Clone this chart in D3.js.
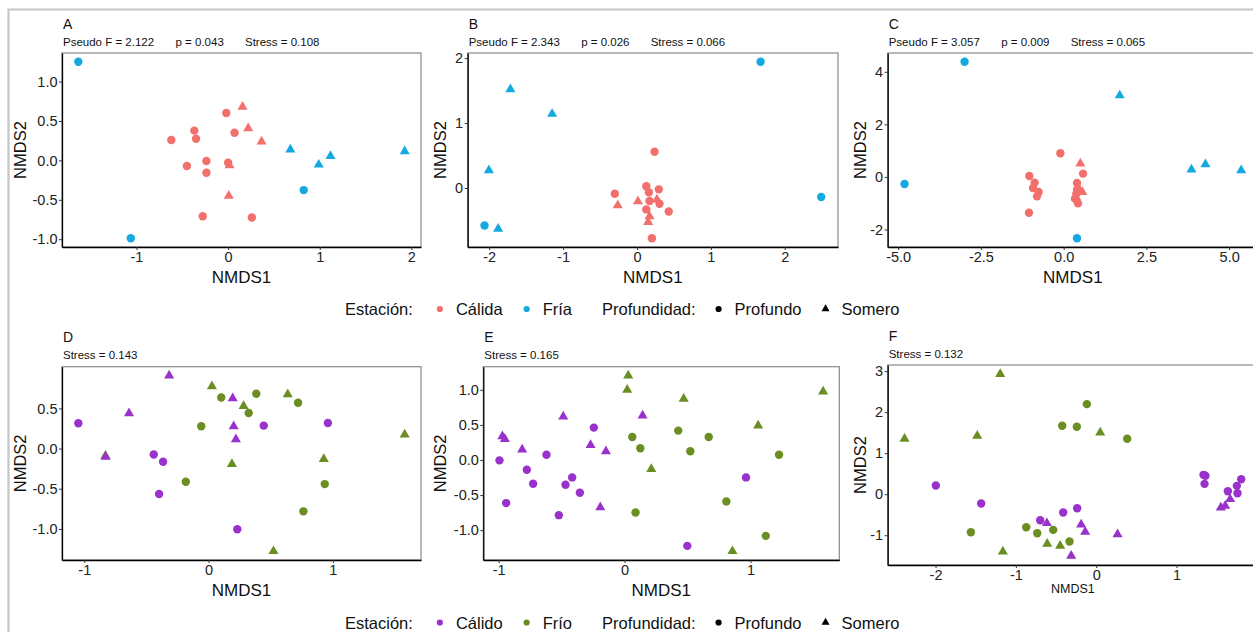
<!DOCTYPE html>
<html>
<head>
<meta charset="utf-8">
<script src="https://cdn.jsdelivr.net/npm/d3@7"></script>
<style>
  body { margin: 0; background: #fff; }
  svg { display: block; }
  text { font-family: "Liberation Sans", Arial, sans-serif; }
</style>
</head>
<body>
<svg id="fig"></svg>
<script>

// ---- data : [NMDS1, NMDS2, estacion, profundidad]  (C = calida/calido, F = fria/frio ; P = profundo, S = somero)
const ptsA = [
  [-1.635, 1.25, "F", "P"], [-1.062, -0.987, "F", "P"], [0.825, -0.377, "F", "P"],
  [0.679, 0.136, "F", "S"], [0.989, -0.055, "F", "S"], [1.117, 0.055, "F", "S"], [1.927, 0.114, "F", "S"],
  [-0.02, 0.6, "C", "P"], [-0.369, 0.377, "C", "P"], [-0.35, 0.275, "C", "P"], [-0.62, 0.258, "C", "P"],
  [0.07, 0.35, "C", "P"], [-0.45, -0.072, "C", "P"], [-0.237, -0.008, "C", "P"], [-0.237, -0.157, "C", "P"],
  [0, -0.03, "C", "P"], [-0.277, -0.708, "C", "P"], [0.259, -0.725, "C", "P"],
  [0.157, 0.68, "C", "S"], [0.219, 0.407, "C", "S"], [0.365, 0.237, "C", "S"], [0.015, -0.064, "C", "S"], [0.007, -0.45, "C", "S"]
]
const ptsB = [
  [1.673, 1.943, "F", "P"], [2.493, -0.139, "F", "P"], [-2.063, -0.577, "F", "P"],
  [-1.713, 1.52, "F", "S"], [-1.148, 1.14, "F", "S"], [-2.004, 0.273, "F", "S"], [-1.879, -0.629, "F", "S"],
  [0.238, 0.557, "C", "P"], [-0.3, -0.088, "C", "P"], [0.126, 0.026, "C", "P"], [0.161, -0.067, "C", "P"],
  [0.296, -0.021, "C", "P"], [0.17, -0.2, "C", "P"], [0.305, -0.242, "C", "P"], [0.126, -0.33, "C", "P"],
  [0.43, -0.361, "C", "P"], [0.202, -0.773, "C", "P"],
  [-0.26, -0.268, "C", "S"], [0.013, -0.206, "C", "S"], [0.27, -0.18, "C", "S"], [0.17, -0.438, "C", "S"], [0.152, -0.526, "C", "S"]
]
const ptsC = [
  [-2.994, 4.38, "F", "P"], [-4.808, -0.268, "F", "P"], [0.403, -2.33, "F", "P"],
  [1.694, 3.1, "F", "S"], [3.861, 0.28, "F", "S"], [4.284, 0.48, "F", "S"], [5.363, 0.25, "F", "S"],
  [-0.1, 0.904, "C", "P"], [-1.038, 0.038, "C", "P"], [-0.877, -0.217, "C", "P"], [-0.927, -0.42, "C", "P"],
  [-0.756, -0.573, "C", "P"], [-0.806, -0.739, "C", "P"], [-1.048, -1.363, "C", "P"], [0.403, -0.229, "C", "P"],
  [0.585, 0.127, "C", "P"], [0.403, -0.484, "C", "P"], [0.433, -1.006, "C", "P"], [0.343, -0.828, "C", "P"], [0.383, -0.637, "C", "P"],
  [0.504, 0.51, "C", "S"], [0.565, -0.573, "C", "S"], [0.383, -0.79, "C", "S"], [0.46, -0.45, "C", "S"]
]
const ptsD = [
  [0.102, 0.636, "F", "P"], [0.384, 0.682, "F", "P"], [0.72, 0.57, "F", "P"], [0.323, 0.442, "F", "P"],
  [-0.059, 0.277, "F", "P"], [-0.183, -0.413, "F", "P"], [0.935, -0.442, "F", "P"], [0.763, -0.781, "F", "P"],
  [0.027, 0.773, "F", "S"], [0.637, 0.674, "F", "S"], [0.282, 0.529, "F", "S"], [1.578, 0.174, "F", "S"],
  [0.927, -0.132, "F", "S"], [0.188, -0.194, "F", "S"], [0.522, -1.277, "F", "S"], [-0.83, -0.09, "F", "S"],
  [-1.048, 0.314, "C", "P"], [-0.441, -0.074, "C", "P"], [-0.366, -0.165, "C", "P"], [-0.398, -0.566, "C", "P"],
  [0.444, 0.285, "C", "P"], [0.96, 0.318, "C", "P"], [0.231, -1.004, "C", "P"],
  [-0.317, 0.909, "C", "S"], [-0.64, 0.438, "C", "S"], [-0.828, -0.103, "C", "S"], [0.194, 0.624, "C", "S"],
  [0.202, 0.277, "C", "S"], [0.22, 0.116, "C", "S"]
]
const ptsE = [
  [0.061, 0.329, "F", "P"], [0.125, 0.167, "F", "P"], [0.426, 0.419, "F", "P"], [0.522, 0.124, "F", "P"],
  [0.668, 0.329, "F", "P"], [1.226, 0.076, "F", "P"], [0.808, -0.59, "F", "P"], [0.087, -0.748, "F", "P"], [1.121, -1.081, "F", "P"],
  [0.029, 1.205, "F", "S"], [0.021, 1.0, "F", "S"], [0.469, 0.871, "F", "S"], [1.576, 0.976, "F", "S"],
  [1.06, 0.49, "F", "S"], [0.212, -0.129, "F", "S"], [0.856, -1.3, "F", "S"],
  [-0.993, -0.005, "C", "P"], [-0.94, -0.614, "C", "P"], [-0.776, -0.138, "C", "P"], [-0.726, -0.338, "C", "P"],
  [-0.62, 0.076, "C", "P"], [-0.522, -0.786, "C", "P"], [-0.469, -0.352, "C", "P"], [-0.416, -0.248, "C", "P"],
  [-0.355, -0.467, "C", "P"], [-0.244, 0.462, "C", "P"], [0.498, -1.224, "C", "P"], [0.964, -0.248, "C", "P"],
  [-0.97, 0.338, "C", "S"], [-0.95, 0.3, "C", "S"], [-0.813, 0.148, "C", "S"], [-0.487, 0.619, "C", "S"],
  [-0.27, 0.214, "C", "S"], [-0.148, 0.124, "C", "S"], [0.143, 0.633, "C", "S"], [-0.193, -0.676, "C", "S"]
]
const ptsF = [
  [-1.195, 2.927, "F", "S"], [-2.386, 1.35, "F", "S"], [-1.481, 1.423, "F", "S"], [0.05, 1.504, "F", "S"],
  [-1.162, -1.398, "F", "S"], [-0.61, -1.211, "F", "S"], [-0.448, -1.26, "F", "S"],
  [-0.116, 2.195, "F", "P"], [-0.423, 1.667, "F", "P"], [-0.241, 1.642, "F", "P"], [0.386, 1.35, "F", "P"],
  [-1.56, -0.927, "F", "P"], [-0.871, -0.805, "F", "P"], [-0.734, -0.951, "F", "P"], [-0.535, -0.87, "F", "P"], [-0.332, -1.154, "F", "P"],
  [-1.996, 0.211, "C", "P"], [-1.432, -0.228, "C", "P"], [-0.697, -0.634, "C", "P"], [-0.411, -0.447, "C", "P"],
  [-0.237, -0.341, "C", "P"], [1.336, 0.472, "C", "P"], [1.36, 0.45, "C", "P"], [1.349, 0.252, "C", "P"],
  [1.639, 0.073, "C", "P"], [1.751, 0.203, "C", "P"], [1.805, 0.366, "C", "P"], [1.759, 0.024, "C", "P"],
  [-0.614, -0.707, "C", "S"], [-0.187, -0.74, "C", "S"], [-0.137, -0.919, "C", "S"], [0.266, -0.976, "C", "S"],
  [-0.311, -1.504, "C", "S"], [1.552, -0.325, "C", "S"], [1.606, -0.285, "C", "S"], [1.668, -0.122, "C", "S"]
]

const statsA = ["Pseudo F = 2.122", "p = 0.043", "Stress = 0.108"]
const statsB = ["Pseudo F = 2.343", "p = 0.026", "Stress = 0.066"]
const statsC = ["Pseudo F = 3.057", "p = 0.009", "Stress = 0.065"]
const statsD = ["Stress = 0.143"]
const statsE = ["Stress = 0.165"]
const statsF = ["Stress = 0.132"]

const xTicksA = [-1, 0, 1, 2],          yTicksA = [-1, -0.5, 0, 0.5, 1]
const xTicksB = [-2, -1, 0, 1, 2],      yTicksB = [0, 1, 2]
const xTicksC = [-5, -2.5, 0, 2.5, 5],  yTicksC = [-2, 0, 2, 4]
const xTicksD = [-1, 0, 1],             yTicksD = [-1, -0.5, 0, 0.5]
const xTicksE = [-1, 0, 1],             yTicksE = [-1, -0.5, 0, 0.5, 1]
const xTicksF = [-2, -1, 0, 1],         yTicksF = [-1, 0, 1, 2, 3]

const estacionTop = ["Cálida", "Fría"]
const estacionBottom = ["Cálido", "Frío"]
const profundidad = ["Profundo", "Somero"]

// ---- colours
const colTop = { C: "#f2706c", F: "#14a9e1" }
const colBottom = { C: "#9932cc", F: "#6b8e23" }

const W = 1253, H = 632
const svg = d3.select("#fig").attr("width", W).attr("height", H)

svg.append("rect").attr("width", W).attr("height", H).attr("fill", "#fff")

// outer frame of the figure (cropped at right / bottom)
svg.append("path")
   .attr("d", "M8.5," + H + " V9.5 H" + W)
   .attr("fill", "none")
   .attr("stroke", "#c6c6c6")
   .attr("stroke-width", 2.2)

const f1 = d => d.toFixed(1)
const f0 = d => d.toFixed(0)

const panels = [
  { letter: "A", pts: ptsA, stats: statsA, xt: xTicksA, yt: yTicksA, fx: f0, fy: f1, col: colTop, box: [62, 53, 421, 247], tx: 25.5 },
  { letter: "B", pts: ptsB, stats: statsB, xt: xTicksB, yt: yTicksB, fx: f0, fy: f0, col: colTop, box: [467.7, 53, 838, 247], tx: 445.5 },
  { letter: "C", pts: ptsC, stats: statsC, xt: xTicksC, yt: yTicksC, fx: f1, fy: f0, col: colTop, box: [887.7, 53, 1258, 247], tx: 865.5 },
  { letter: "D", pts: ptsD, stats: statsD, xt: xTicksD, yt: yTicksD, fx: f0, fy: f1, col: colBottom, box: [62, 366.7, 421, 560], tx: 25.5 },
  { letter: "E", pts: ptsE, stats: statsE, xt: xTicksE, yt: yTicksE, fx: f0, fy: f1, col: colBottom, box: [483.3, 366.7, 839.3, 560], tx: 445.5 },
  { letter: "F", pts: ptsF, stats: statsF, xt: xTicksF, yt: yTicksF, fx: f0, fy: f0, col: colBottom, box: [887.7, 365, 1258, 565], tx: 865.5, smallX: true }
]

const circleR = 4.2
const triangle = d3.symbol().type(d3.symbolTriangle).size(44)

function drawPanel(p) {
  const [x0, y0, x1, y1] = p.box

  const xe = d3.extent(p.pts, d => d[0])
  const ye = d3.extent(p.pts, d => d[1])
  const xpad = (xe[1] - xe[0]) * 0.05
  const ypad = (ye[1] - ye[0]) * 0.05

  const x = d3.scaleLinear().domain([xe[0] - xpad, xe[1] + xpad]).range([x0, x1])
  const y = d3.scaleLinear().domain([ye[0] - ypad, ye[1] + ypad]).range([y1, y0])

  const g = svg.append("g")

  // panel letter and stats line
  g.append("text")
   .attr("x", x0 + 1).attr("y", y0 - 24.5)
   .attr("font-size", 14).attr("fill", "#111")
   .text(p.letter)

  const statOffsets = [0, 112.5, 182]
  g.selectAll(".stat")
   .data(p.stats)
   .enter().append("text")
   .attr("class", "stat")
   .attr("x", (d, i) => x0 + 1 + statOffsets[i])
   .attr("y", y0 - 7.5)
   .attr("font-size", 11.5).attr("fill", "#111")
   .text(d => d)

  // panel border
  g.append("rect")
   .attr("x", x0).attr("y", y0)
   .attr("width", x1 - x0).attr("height", y1 - y0)
   .attr("fill", "none")
   .attr("stroke", "#8a8a8a")
   .attr("stroke-width", 1.2)

  // points
  const pg = g.append("g")
  p.pts.forEach(d => {
    if (d[3] == "P") {
      pg.append("circle")
        .attr("cx", x(d[0])).attr("cy", y(d[1]))
        .attr("r", circleR)
        .attr("fill", p.col[d[2]])
    } else {
      pg.append("path")
        .attr("d", triangle())
        .attr("transform", "translate(" + x(d[0]) + "," + y(d[1]) + ")")
        .attr("fill", p.col[d[2]])
    }
  })

  // axes
  const ax = g.append("g")
              .attr("transform", "translate(0," + y1 + ")")
              .call(d3.axisBottom(x).tickValues(p.xt).tickFormat(p.fx).tickSize(3).tickSizeOuter(0).tickPadding(2))
  const ay = g.append("g")
              .attr("transform", "translate(" + x0 + ",0)")
              .call(d3.axisLeft(y).tickValues(p.yt).tickFormat(p.fy).tickSize(3).tickSizeOuter(0).tickPadding(1.5))

  ;[ax, ay].forEach(a => {
    a.select(".domain").attr("stroke", "#000").attr("stroke-width", 1.3)
    a.selectAll(".tick line").attr("stroke", "#333").attr("stroke-width", 1)
    a.selectAll(".tick text")
     .attr("font-size", 14.5)
     .attr("font-family", "Liberation Sans, Arial, sans-serif")
     .attr("fill", "#222")
  })

  // axis titles
  g.append("text")
   .attr("x", (x0 + x1) / 2)
   .attr("y", p.smallX ? y1 + 28 : y1 + 35.5)
   .attr("text-anchor", "middle")
   .attr("font-size", p.smallX ? 12.5 : 17)
   .attr("fill", "#111")
   .text("NMDS1")

  g.append("text")
   .attr("transform", "translate(" + p.tx + "," + (y0 + y1) / 2 + ") rotate(-90)")
   .attr("text-anchor", "middle")
   .attr("font-size", 16.5)
   .attr("fill", "#111")
   .text("NMDS2")
}

panels.forEach(drawPanel)

// ---- legends
function drawLegend(baseY, estLabels, col) {
  const lg = svg.append("g")
  let cx = 345
  const fs = 16.5

  function addText(t) {
    const el = lg.append("text").attr("x", cx).attr("y", baseY)
                 .attr("font-size", fs).attr("fill", "#111").text(t)
    cx += el.node().getComputedTextLength()
  }
  function addKey(shape, color) {
    if (shape == "circle") {
      lg.append("circle").attr("cx", cx).attr("cy", baseY - 6).attr("r", 3.1).attr("fill", color)
    } else {
      lg.append("path").attr("d", d3.symbol().type(d3.symbolTriangle).size(28)())
        .attr("transform", "translate(" + cx + "," + (baseY - 6) + ")")
        .attr("fill", color)
    }
  }

  addText("Estación:")
  cx += 27
  addKey("circle", col.C); cx += 16
  addText(estLabels[0])
  cx += 24
  addKey("circle", col.F); cx += 16
  addText(estLabels[1])
  cx += 30
  addText("Profundidad:")
  cx += 23
  addKey("circle", "#000"); cx += 16
  addText(profundidad[0])
  cx += 24
  addKey("triangle", "#000"); cx += 16
  addText(profundidad[1])
}

drawLegend(315, estacionTop, colTop)
drawLegend(628.5, estacionBottom, colBottom)

</script>
</body>
</html>
